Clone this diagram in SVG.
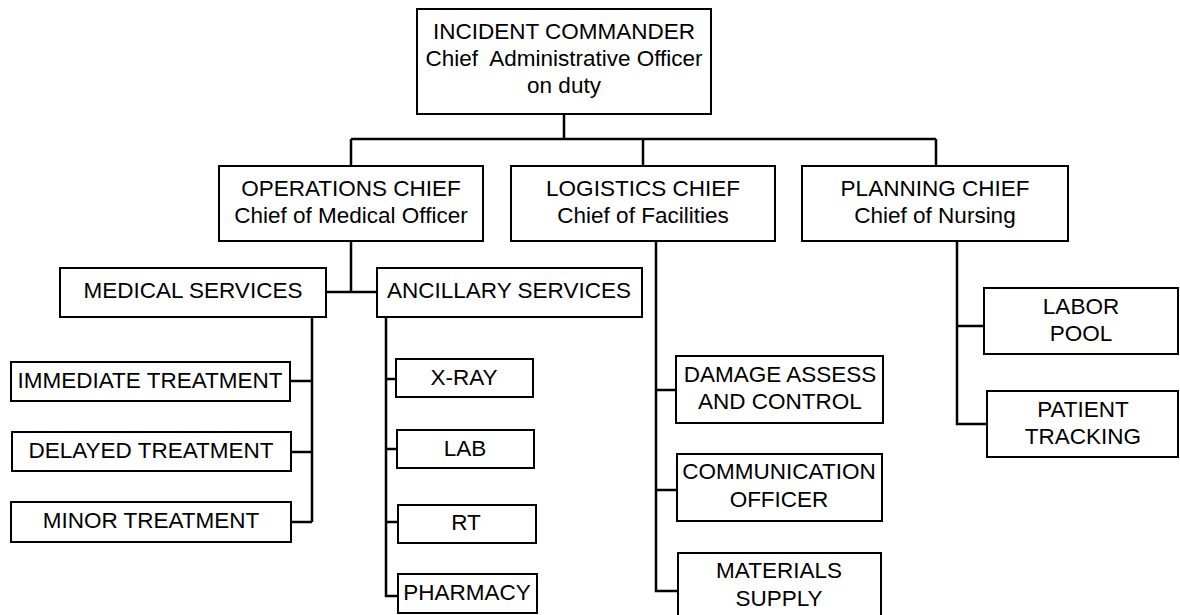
<svg xmlns="http://www.w3.org/2000/svg" width="1180" height="615" viewBox="0 0 1180 615">
<style>
.box{fill:#fff;stroke:#000;stroke-width:2}
.t{font-family:"Liberation Sans",Arial,sans-serif;font-size:22.5px;fill:#000;text-anchor:middle}
.c{fill:none;stroke:#000;stroke-width:2.5}
</style>
<rect width="1180" height="615" fill="#fff"/>
<g id="connectors">
<path class="c" d="M564 114V139M351 139H936M351 139V166M643 139V166M936 139V166"/>
<path class="c" d="M351 241V292M326 292H377"/>
<path class="c" d="M312 317V522M290 381H312M291 452H312M291 522H312"/>
<path class="c" d="M386 317V596H398M386 379H396M386 449H397M386 522H398"/>
<path class="c" d="M656 241V591H678M656 390H676M656 490H677"/>
<path class="c" d="M957 241V424H987M957 326H984"/>
</g>
<g id="incident-commander">
<rect class="box" x="417" y="9" width="294" height="105"/>
<text class="t" x="564" y="39">INCIDENT COMMANDER</text>
<text class="t" x="564" y="66" xml:space="preserve">Chief  Administrative Officer</text>
<text class="t" x="564" y="93">on duty</text>
</g>
<g id="operations-chief">
<rect class="box" x="219" y="166" width="264" height="75"/>
<text class="t" x="351" y="196">OPERATIONS CHIEF</text>
<text class="t" x="351" y="223">Chief of Medical Officer</text>
</g>
<g id="logistics-chief">
<rect class="box" x="511" y="166" width="264" height="75"/>
<text class="t" x="643" y="196">LOGISTICS CHIEF</text>
<text class="t" x="643" y="223">Chief of Facilities</text>
</g>
<g id="planning-chief">
<rect class="box" x="802" y="166" width="266" height="75"/>
<text class="t" x="935" y="196">PLANNING CHIEF</text>
<text class="t" x="935" y="223">Chief of Nursing</text>
</g>
<g id="medical-services">
<rect class="box" x="60" y="268" width="266" height="49"/>
<text class="t" x="193" y="298">MEDICAL SERVICES</text>
</g>
<g id="ancillary-services">
<rect class="box" x="377" y="268" width="265" height="49"/>
<text class="t" x="509" y="298">ANCILLARY SERVICES</text>
</g>
<g id="immediate-treatment">
<rect class="box" x="11" y="362" width="279" height="39"/>
<text class="t" x="150" y="388">IMMEDIATE TREATMENT</text>
</g>
<g id="delayed-treatment">
<rect class="box" x="12" y="432" width="279" height="39"/>
<text class="t" x="151" y="458">DELAYED TREATMENT</text>
</g>
<g id="minor-treatment">
<rect class="box" x="11" y="502" width="280" height="40"/>
<text class="t" x="151" y="528">MINOR TREATMENT</text>
</g>
<g id="x-ray">
<rect class="box" x="396" y="359" width="137" height="38"/>
<text class="t" x="464" y="385">X-RAY</text>
</g>
<g id="lab">
<rect class="box" x="397" y="430" width="137" height="38"/>
<text class="t" x="465" y="456">LAB</text>
</g>
<g id="rt">
<rect class="box" x="398" y="505" width="138" height="38"/>
<text class="t" x="466" y="530">RT</text>
</g>
<g id="pharmacy">
<rect class="box" x="398" y="574" width="139" height="39"/>
<text class="t" x="467" y="600">PHARMACY</text>
</g>
<g id="damage-assess">
<rect class="box" x="676" y="356" width="207" height="67"/>
<text class="t" x="780" y="382">DAMAGE ASSESS</text>
<text class="t" x="780" y="409">AND CONTROL</text>
</g>
<g id="communication-officer">
<rect class="box" x="677" y="454" width="205" height="67"/>
<text class="t" x="779" y="479">COMMUNICATION</text>
<text class="t" x="779" y="507">OFFICER</text>
</g>
<g id="materials-supply">
<rect class="box" x="678" y="553" width="203" height="70"/>
<text class="t" x="779" y="578">MATERIALS</text>
<text class="t" x="779" y="606">SUPPLY</text>
</g>
<g id="labor-pool">
<rect class="box" x="984" y="288" width="194" height="66"/>
<text class="t" x="1081" y="314">LABOR</text>
<text class="t" x="1081" y="341">POOL</text>
</g>
<g id="patient-tracking">
<rect class="box" x="987" y="391" width="191" height="66"/>
<text class="t" x="1083" y="417">PATIENT</text>
<text class="t" x="1083" y="444">TRACKING</text>
</g>
</svg>
